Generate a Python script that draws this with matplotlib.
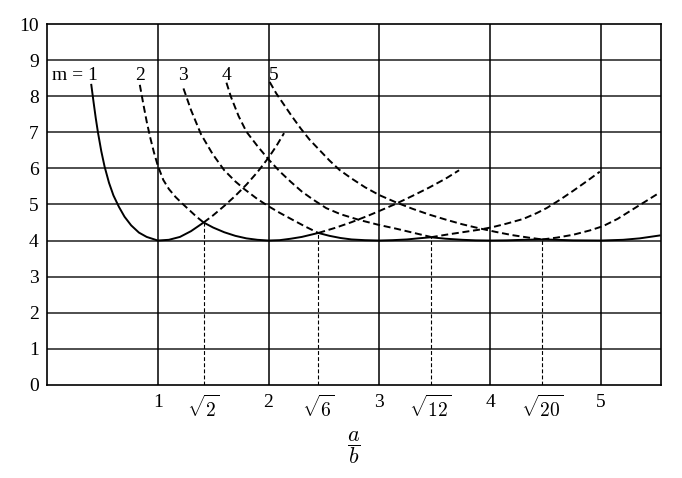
import numpy as np
import matplotlib
matplotlib.use('Agg')
import matplotlib.pyplot as plt

##包络线(实线), m=1..5 各段连在一起
solid_x=[0.40,0.42,0.44,0.46,0.49,0.52,0.56,0.60,0.65,0.70,0.76,0.83,0.90,1.00,1.10,1.20,1.30,1.414,
         1.50,1.60,1.70,1.80,1.90,2.00,2.10,2.20,2.30,2.449,
         2.55,2.65,2.75,2.87,3.00,3.12,3.25,3.35,3.464,
         3.60,3.75,3.87,4.00,4.15,4.30,4.472,
         4.60,4.75,5.00,5.20,5.35,5.53]
solid_k=[8.32,7.85,7.40,7.00,6.48,6.05,5.60,5.25,4.93,4.66,4.42,4.22,4.10,4.00,4.02,4.10,4.26,4.50,
         4.36,4.23,4.13,4.06,4.02,4.00,4.01,4.05,4.10,4.21,
         4.13,4.07,4.03,4.01,4.00,4.01,4.03,4.06,4.09,
         4.05,4.02,4.005,4.00,4.005,4.02,4.03,
         4.02,4.005,4.00,4.02,4.06,4.14]

##各条曲线的虚线部分
m1_x=[1.414,1.50,1.60,1.70,1.80,1.90,2.00,2.07,2.14]
m1_k=[4.50,4.70,4.96,5.24,5.55,5.90,6.30,6.62,6.98]

m2a_x=[0.838,0.87,0.90,0.93,0.965,1.00,1.05,1.10,1.16,1.22,1.29,1.35,1.414]
m2a_k=[8.32,7.78,7.30,6.88,6.45,6.08,5.68,5.43,5.21,5.03,4.83,4.66,4.50]
m2b_x=[2.449,2.60,2.75,2.90,3.00,3.15,3.30,3.45,3.60,3.72]
m2b_k=[4.21,4.35,4.51,4.69,4.82,5.02,5.24,5.47,5.72,5.95]

m3a_x=[1.232,1.30,1.39,1.495,1.60,1.70,1.78,1.90,2.00,2.10,2.22,2.33,2.449]
m3a_k=[8.22,7.62,6.95,6.40,5.95,5.64,5.43,5.15,4.95,4.77,4.57,4.39,4.21]
m3b_x=[3.464,3.60,3.75,3.90,4.02,4.15,4.30,4.42,4.51,4.63,4.75,4.87,4.99]
m3b_k=[4.09,4.16,4.23,4.30,4.37,4.47,4.60,4.76,4.90,5.13,5.38,5.64,5.91]

m4a_x=[1.62,1.66,1.73,1.80,1.90,2.00,2.10,2.20,2.30,2.40,2.52,2.65,2.82,3.00,3.15,3.30,3.464]
m4a_k=[8.38,7.99,7.45,7.02,6.62,6.25,5.92,5.63,5.36,5.14,4.90,4.73,4.57,4.43,4.33,4.22,4.10]
m4b_x=[4.472,4.60,4.75,4.90,5.02,5.15,5.28,5.40,5.53]
m4b_k=[4.03,4.08,4.16,4.28,4.40,4.60,4.85,5.08,5.33]

m5_x=[2.01,2.07,2.13,2.21,2.29,2.37,2.46,2.55,2.64,2.75,2.87,3.00,3.15,3.30,3.45,3.60,3.75,3.90,4.05,4.20,4.35,4.472]
m5_k=[8.40,8.08,7.81,7.45,7.11,6.80,6.51,6.22,5.96,5.72,5.48,5.26,5.06,4.88,4.72,4.58,4.45,4.34,4.24,4.15,4.08,4.03]

##交点(竖虚线)
cross_x=np.sqrt([2,6,12,20])
cross_k=[4.50,4.21,4.09,4.03]

curve_labels=['m = 1','2','3','4','5']
xtick_pos=[1,np.sqrt(2),2,np.sqrt(6),3,np.sqrt(12),4,np.sqrt(20),5]
xtick_lab=['1',r'$\sqrt{2}$','2',r'$\sqrt{6}$','3',r'$\sqrt{12}$','4',r'$\sqrt{20}$','5']

plt.rcParams['font.family']=['Liberation Serif','DejaVu Serif']
plt.rcParams['mathtext.fontset']='cm'

fig=plt.figure(figsize=(6.82,4.78),dpi=100)
ax=fig.add_axes([0.0689,0.1952,0.8999,0.754])

##网格
for y in range(1,10):
    ax.axhline(y,color='0.25',lw=1.3,zorder=1)
for x in range(1,6):
    ax.axvline(x,color='black',lw=1.1,zorder=1)

ax.plot(solid_x,solid_k,color='black',lw=1.4,zorder=3)
dash=(0,(3.6,1.9))
for xs,ks in [(m1_x,m1_k),(m2a_x,m2a_k),(m2b_x,m2b_k),(m3a_x,m3a_k),(m3b_x,m3b_k),
              (m4a_x,m4a_k),(m4b_x,m4b_k),(m5_x,m5_k)]:
    ax.plot(xs,ks,color='black',lw=1.4,linestyle=dash,zorder=3)

ax.vlines(cross_x,0,cross_k,color='black',lw=0.8,linestyles=[(0,(3.5,2.0))],zorder=2)

##曲线标号
lab_x=[0.46,0.836,1.23,1.62,2.05]
for i in range(len(curve_labels)):
    ax.text(lab_x[i],8.58,curve_labels[i],fontsize=14,va='center',
            ha='right' if i==0 else 'center',zorder=4)

ax.set_xlim(0,5.54)
ax.set_ylim(0,10)
ax.set_yticks(range(0,11))
ax.set_xticks(xtick_pos)
ax.set_xticklabels(xtick_lab)
ax.tick_params(length=0,labelsize=14)
ax.tick_params(axis='x',pad=7)
ax.tick_params(axis='y',pad=6)
for s in ax.spines.values():
    s.set_linewidth(1.2)
ax.set_xlabel(r'$\dfrac{a}{b}$',fontsize=16,labelpad=6)

fig.savefig('out.png',dpi=100)
